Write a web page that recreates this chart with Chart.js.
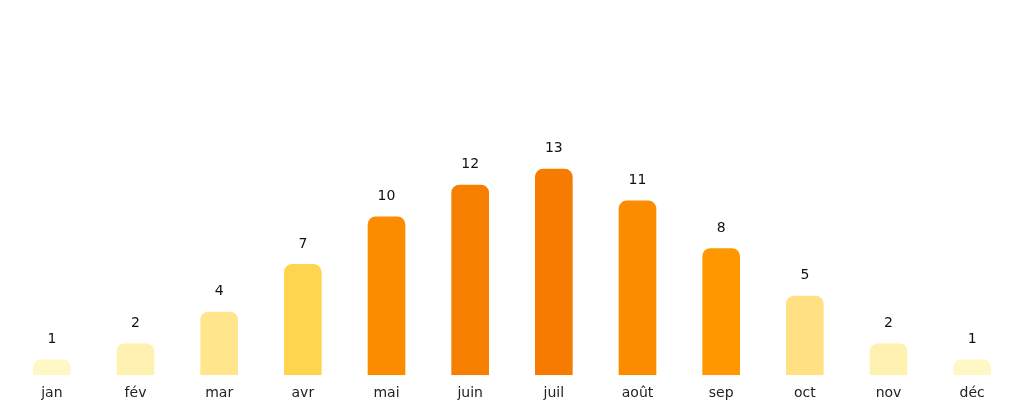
<!DOCTYPE html>
<html><head><meta charset="utf-8">
<script src="https://cdn.jsdelivr.net/npm/chart.js@4"></script>
<style>html,body{margin:0;padding:0;background:#fff}#w{width:1024px;height:404px}</style>
</head><body><div id="w"><canvas id="c"></canvas></div>
<script>
const categories = ["jan","fév","mar","avr","mai","juin","juil","août","sep","oct","nov","déc"];
const values = [1,2,4,7,10,12,13,11,8,5,2,1];
const colors = ["#FFF8C6","#FFF2B0","#FFE58C","#FFD54F","#FB8C00","#F77F00","#F57C00","#FB8C00","#FF9800","#FFE082","#FFF2B0","#FFF8C6"];
const labelPlugin = {
  id:'vlabels',
  afterDatasetsDraw(chart){
    const ctx = chart.ctx, meta = chart.getDatasetMeta(0);
    ctx.save();
    ctx.font = '14px "DejaVu Sans"';
    ctx.fillStyle = '#111';
    ctx.textAlign = 'center';
    ctx.textBaseline = 'bottom';
    meta.data.forEach((b,i)=>{ ctx.fillText(String(values[i]), b.x, b.y - 13); });
    ctx.restore();
  }
};
new Chart(document.getElementById('c'),{
  type:'bar',
  data:{labels:categories,datasets:[{data:values,backgroundColor:colors,borderRadius:{topLeft:8,topRight:8,bottomLeft:0,bottomRight:0},borderSkipped:'bottom',categoryPercentage:1,barPercentage:0.45}]},
  options:{
    responsive:true,maintainAspectRatio:false,animation:false,
    layout:{padding:{left:10,right:10,top:10,bottom:0}},
    plugins:{legend:{display:false},tooltip:{enabled:false}},
    scales:{
      x:{grid:{display:false},border:{display:false},ticks:{color:'#222',font:{family:'DejaVu Sans',size:14},padding:2}},
      y:{display:false,min:0,max:23}
    }
  },
  plugins:[labelPlugin]
});
</script></body></html>
